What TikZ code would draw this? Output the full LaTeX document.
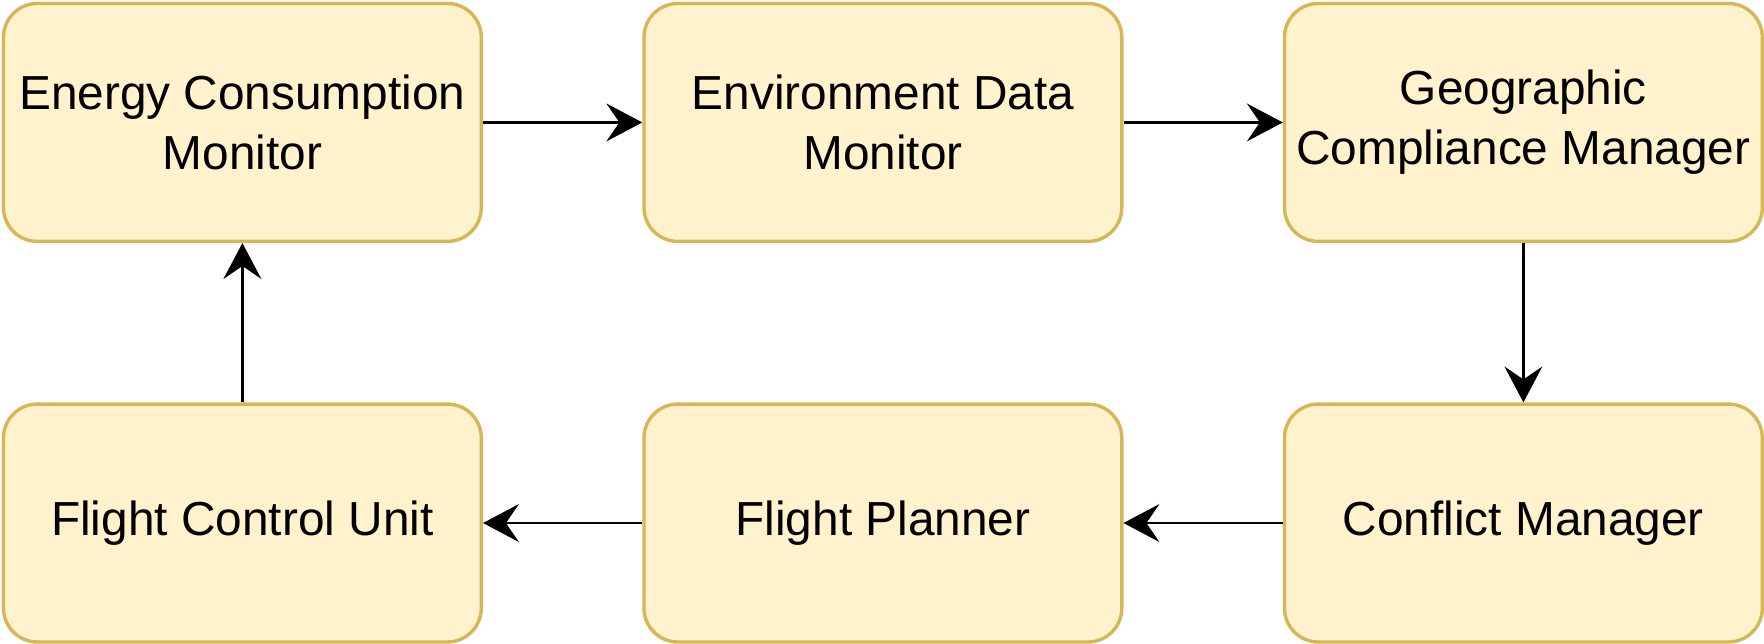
\documentclass[tikz,border=0pt]{standalone}
\usepackage{fontspec}
\setmainfont{Liberation Sans}
\usepackage{tikz}
\usetikzlibrary{positioning,arrows.meta}
\definecolor{boxfill}{HTML}{FFF2CC}
\definecolor{boxline}{HTML}{D6B656}

\begin{document}
\begin{tikzpicture}[>={Stealth[length=18pt,width=19pt,inset=6.5pt]},line width=1.4pt,node distance=80pt,
block/.style={draw=boxline,fill=boxfill,line width=1.7pt,rounded corners=17pt,minimum width=240pt,minimum height=119.5pt,align=center,font=\fontsize{24}{30}\selectfont}]
\node[block] (ecm) {Energy Consumption\\Monitor};
\node[block] (edm) [right=of ecm] {Environment Data\\Monitor};
\node[block] (gcm) [right=of edm] {Geographic\\Compliance Manager};
\node[block] (cm) [below=of gcm] {Conflict Manager};
\node[block] (fp) [left=of cm] {Flight Planner};
\node[block] (fcu) [left=of fp] {Flight Control Unit};

\useasboundingbox ([shift={(-0.9pt,0.9pt)}]ecm.north west) rectangle ++(882pt,-322pt);

\path[->] (ecm) edge (edm)
(edm) edge (gcm)
(gcm) edge (cm)
(cm) edge (fp)
(fp) edge (fcu)
(fcu) edge (ecm);
\end{tikzpicture}
\end{document}
